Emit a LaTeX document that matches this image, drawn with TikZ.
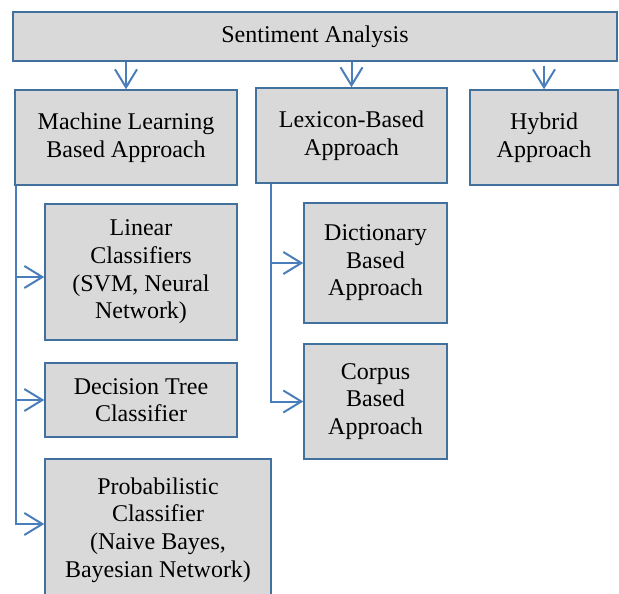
\documentclass[tikz,border=0pt]{standalone}
\usepackage{fontspec}
\setmainfont{Liberation Serif}
\usetikzlibrary{arrows.meta}
\definecolor{boxfill}{HTML}{D9D9D9}
\definecolor{boxline}{HTML}{41719C}
\definecolor{arrline}{HTML}{4A7EBB}
\begin{document}
\begin{tikzpicture}[x=0.5pt,y=-0.5pt,
        box/.style={draw=boxline,line width=0.75pt,fill=boxfill,align=center,
            font=\fontsize{12}{13.8}\selectfont,inner sep=2pt},
        arr/.style={draw=arrline,line width=1pt,
            -{Straight Barb[length=9pt,width=11pt,line width=1pt]}}
    ]
        \clip (0,0) rectangle (619,593);
        % top row
        \node (sa) at (315,36.5) [box,minimum width=302pt,minimum height=24.5pt] {Sentiment Analysis};
        \node (ml) at (126,137.5) [box,minimum width=111pt,minimum height=47.5pt] {Machine Learning\\Based Approach};
        \node (lex) at (351.5,135.5) [box,minimum width=95.5pt,minimum height=47.5pt] {Lexicon-Based\\Approach};
        \node (hyb) at (544,137.5) [box,minimum width=74pt,minimum height=47.5pt] {Hybrid\\Approach};
        % machine learning branch
        \node (lin) at (141,272) [box,minimum width=96pt,minimum height=68pt] {Linear\\Classifiers\\(SVM, Neural\\Network)};
        \node (dec) at (141,400) [box,minimum width=96pt,minimum height=37pt] {Decision Tree\\Classifier};
        \node (prob) at (158,530) [box,minimum width=113pt,minimum height=71pt] {Probabilistic\\Classifier\\(Naive Bayes,\\Bayesian Network)};
        % lexicon branch
        \node (dict) at (375.5,263) [box,minimum width=71.5pt,minimum height=60pt] {Dictionary\\Based\\Approach};
        \node (corp) at (375.5,401.5) [box,minimum width=71.5pt,minimum height=57.5pt] {Corpus\\Based\\Approach};

        \draw[arr] (sa.south -| ml.north) -- (ml.north);
        \draw[arr] (sa.south -| lex.north) -- (lex.north);
        \draw[arr] ([yshift=-2pt]sa.south -| hyb.north) -- (hyb.north);

        \draw[arr] ([xshift=0.75pt]ml.south west) |- ([yshift=-2.5pt]lin.west);
        \draw[arr] ([xshift=0.75pt]ml.south west) |- (dec.west);
        \draw[arr] ([xshift=0.75pt]ml.south west) |- ([yshift=3pt]prob.west);

        \draw[arr] ([xshift=7.75pt]lex.south west) |- (dict.west);
        \draw[arr] ([xshift=7.75pt]lex.south west) |- (corp.west);
    \end{tikzpicture}
\end{document}
